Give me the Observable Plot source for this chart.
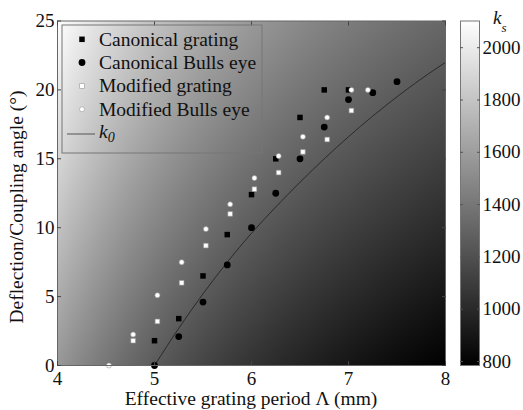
<!DOCTYPE html>
<html>
<head>
<meta charset="utf-8">
<script src="https://cdn.jsdelivr.net/npm/d3@7"></script>
<script src="https://cdn.jsdelivr.net/npm/@observablehq/plot@0.6"></script>
<style>
  html, body { margin: 0; padding: 0; background: #fff; }
  #wrap { position: relative; width: 523px; height: 410px; font-family: 'Liberation Serif', 'Times New Roman', serif; }
  #cbar { position: absolute; left: 460px; top: 0; }
  #main { position: absolute; left: 0; top: 0; }
  svg text { font-family: 'Liberation Serif', 'Times New Roman', serif; }
</style>
</head>
<body>
<div id="wrap"><div id="main"></div><div id="cbar"></div></div>
<script>
// ---- data ----
const canonGratingPeriod = [5.0, 5.25, 5.5, 5.75, 6.0, 6.25, 6.5, 6.75, 7.0];
const canonGratingAngle  = [1.8, 3.4, 6.5, 9.5, 12.4, 15.0, 18.0, 20.0, 20.0];

const canonBullsPeriod = [5.0, 5.25, 5.5, 5.75, 6.0, 6.25, 6.5, 6.75, 7.0, 7.25, 7.5];
const canonBullsAngle  = [0, 2.1, 4.6, 7.3, 10.0, 12.5, 15.0, 17.3, 19.3, 19.8, 20.6];

const modGratingPeriod = [4.78, 5.03, 5.28, 5.53, 5.78, 6.03, 6.28, 6.53, 6.78, 7.03];
const modGratingAngle  = [1.8, 3.2, 6.0, 8.7, 11.0, 12.8, 14.0, 15.5, 16.4, 18.5];

const modBullsPeriod = [4.53, 4.78, 5.03, 5.28, 5.53, 5.78, 6.03, 6.28, 6.53, 6.78, 7.03, 7.2];
const modBullsAngle  = [0, 2.25, 5.1, 7.5, 9.9, 11.7, 13.6, 15.2, 16.6, 18.0, 20.0, 20.0];

const k0Period = [5, 5.25, 5.5, 5.75, 6, 6.25, 6.5, 6.75, 7, 7.25, 7.5, 7.75, 8];
const k0Angle  = [0, 2.7, 5.2, 7.5, 9.6, 11.5, 13.3, 15.0, 16.6, 18.1, 19.5, 20.8, 22.0];

const xTicks = [4, 5, 6, 7, 8];
const yTicks = [0, 5, 10, 15, 20, 25];
const cbTicks = [800, 1000, 1200, 1400, 1600, 1800, 2000];

const legendLabels = ["Canonical grating", "Canonical Bulls eye", "Modified grating", "Modified Bulls eye"];

// background field: surface wavenumber k_s = k0 sin(theta) + 2*pi/Lambda at 60 GHz
const FREQ_GHZ = 60;
const C_LIGHT = 299792458;
const KS_DOMAIN = [785, 2102];

// ---- build ----
const k0 = 2 * Math.PI * FREQ_GHZ * 1e9 / C_LIGHT;
const ksField = (period, angle) => k0 * Math.sin(angle * Math.PI / 180) + 2 * Math.PI / (period * 1e-3);
const zip = (xs, ys) => xs.map((x, i) => ({x, y: ys[i]}));
const cg = zip(canonGratingPeriod, canonGratingAngle);
const cb = zip(canonBullsPeriod, canonBullsAngle);
const mg = zip(modGratingPeriod, modGratingAngle);
const mb = zip(modBullsPeriod, modBullsAngle);
const k0Line = zip(k0Period, k0Angle);

const FONT = "'Liberation Serif', 'Times New Roman', serif";
const colorScale = {type: "linear", domain: KS_DOMAIN, range: ["#000000", "#ffffff"]};
const blank = () => "";
const plain = d => String(d);

const main = Plot.plot({
  width: 523, height: 410,
  marginLeft: 57, marginRight: 78, marginTop: 20.5, marginBottom: 45,
  style: {fontFamily: FONT, fontSize: "19px", color: "#111", background: "transparent"},
  x: {domain: [4, 8], label: null},
  y: {domain: [0, 25], label: null},
  color: colorScale,
  marks: [
    Plot.raster({x1: 4, x2: 8, y1: 0, y2: 25, fill: (x, y) => ksField(x, y)}),
    Plot.line(k0Line, {x: "x", y: "y", stroke: "#2a2a2a", strokeWidth: 1, curve: "monotone-x"}),
    Plot.dot(cg, {x: "x", y: "y", symbol: "square", r: 3.1, fill: "#000", stroke: "none"}),
    Plot.dot(cb, {x: "x", y: "y", symbol: "circle", r: 3.4, fill: "#000", stroke: "none"}),
    Plot.dot(mg, {x: "x", y: "y", symbol: "square", r: 2.6, fill: "#fff", stroke: "#999", strokeWidth: 0.6}),
    Plot.dot(mb, {x: "x", y: "y", symbol: "circle", r: 2.5, fill: "#fff", stroke: "#999", strokeWidth: 0.6}),
    Plot.frame({stroke: "#666"}),
    Plot.axisX({anchor: "bottom", ticks: xTicks, tickSize: -4, tickFormat: blank, stroke: "#444"}),
    Plot.axisX({anchor: "top", ticks: xTicks, tickSize: -4, tickFormat: blank, stroke: "#444"}),
    Plot.axisY({anchor: "left", ticks: yTicks, tickSize: -4, tickFormat: blank, stroke: "#444"}),
    Plot.axisY({anchor: "right", ticks: yTicks, tickSize: -4, tickFormat: blank, stroke: "#444"}),
    Plot.axisX({anchor: "bottom", ticks: xTicks, tickSize: 0, tickPadding: 6, fontSize: 19, fill: "#111", tickFormat: plain}),
    Plot.axisY({anchor: "left", ticks: yTicks, tickSize: 0, tickPadding: 3, fontSize: 19, fill: "#111", tickFormat: plain})
  ]
});
document.getElementById("main").appendChild(main);

// axis titles and legend
const svg = d3.select(main);
svg.append("text")
  .attr("x", 251).attr("y", 405)
  .attr("text-anchor", "middle")
  .attr("font-family", FONT).attr("font-size", 19.5).attr("fill", "#111")
  .text("Effective grating period Λ (mm)");
svg.append("text")
  .attr("transform", "translate(23,207) rotate(-90)")
  .attr("text-anchor", "middle")
  .attr("font-family", FONT).attr("font-size", 19.5).attr("fill", "#111")
  .text("Deflection/Coupling angle (°)");

const lg = svg.append("g");
lg.append("rect").attr("x", 62).attr("y", 25).attr("width", 200).attr("height", 128)
  .attr("fill", "none").attr("stroke", "#777").attr("stroke-width", 1);
const rows = [39.3, 62.5, 86, 109.3];
const sym = [
  g => g.append("rect").attr("x", -2.75).attr("y", -2.75).attr("width", 5.5).attr("height", 5.5).attr("fill", "#000"),
  g => g.append("circle").attr("r", 3.4).attr("fill", "#000"),
  g => g.append("rect").attr("x", -2.3).attr("y", -2.3).attr("width", 4.6).attr("height", 4.6).attr("fill", "#fff").attr("stroke", "#999").attr("stroke-width", 0.6),
  g => g.append("circle").attr("r", 2.5).attr("fill", "#fff").attr("stroke", "#999").attr("stroke-width", 0.6)
];
legendLabels.forEach((lab, i) => {
  const g = lg.append("g").attr("transform", `translate(82,${rows[i]})`);
  sym[i](g);
  lg.append("text").attr("x", 99).attr("y", rows[i] + 6.3)
    .attr("text-anchor", "start")
    .attr("font-family", FONT).attr("font-size", 19.5).attr("fill", "#111").text(lab);
});
lg.append("line").attr("x1", 67).attr("x2", 95).attr("y1", 134).attr("y2", 134)
  .attr("stroke", "#555").attr("stroke-width", 1);
const k0t = lg.append("text").attr("x", 99).attr("y", 138)
  .attr("text-anchor", "start")
  .attr("font-family", FONT).attr("font-size", 19.5).attr("fill", "#111").attr("font-style", "italic");
k0t.append("tspan").text("k");
k0t.append("tspan").attr("font-size", 14).attr("dy", 4).text("0");

// colorbar
const cbar = Plot.plot({
  width: 63, height: 410,
  marginLeft: 0, marginRight: 44, marginTop: 20.5, marginBottom: 45,
  style: {fontFamily: FONT, fontSize: "19px", color: "#111", background: "transparent", overflow: "visible"},
  x: {domain: [0, 1], axis: null},
  y: {domain: KS_DOMAIN, label: null},
  color: colorScale,
  marks: [
    Plot.raster({x1: 0, x2: 1, y1: KS_DOMAIN[0], y2: KS_DOMAIN[1], fill: (x, y) => y}),
    Plot.frame({stroke: "#777"}),
    Plot.axisY({anchor: "left", ticks: cbTicks, tickSize: -3, tickFormat: blank, stroke: "#555"}),
    Plot.axisY({anchor: "right", ticks: cbTicks, tickSize: -3, tickFormat: blank, stroke: "#555"}),
    Plot.axisY({anchor: "right", ticks: cbTicks, tickSize: 0, tickPadding: 3, fontSize: 19, fill: "#111", tickFormat: plain})
  ]
});
document.getElementById("cbar").appendChild(cbar);
const kst = d3.select(cbar).append("text").attr("x", 33).attr("y", 24)
  .attr("text-anchor", "start")
  .attr("font-family", FONT).attr("font-size", 19).attr("fill", "#111").attr("font-style", "italic");
kst.append("tspan").text("k");
kst.append("tspan").attr("font-size", 13).attr("dx", 0).attr("dy", 8).text("s");
</script>
</body>
</html>
